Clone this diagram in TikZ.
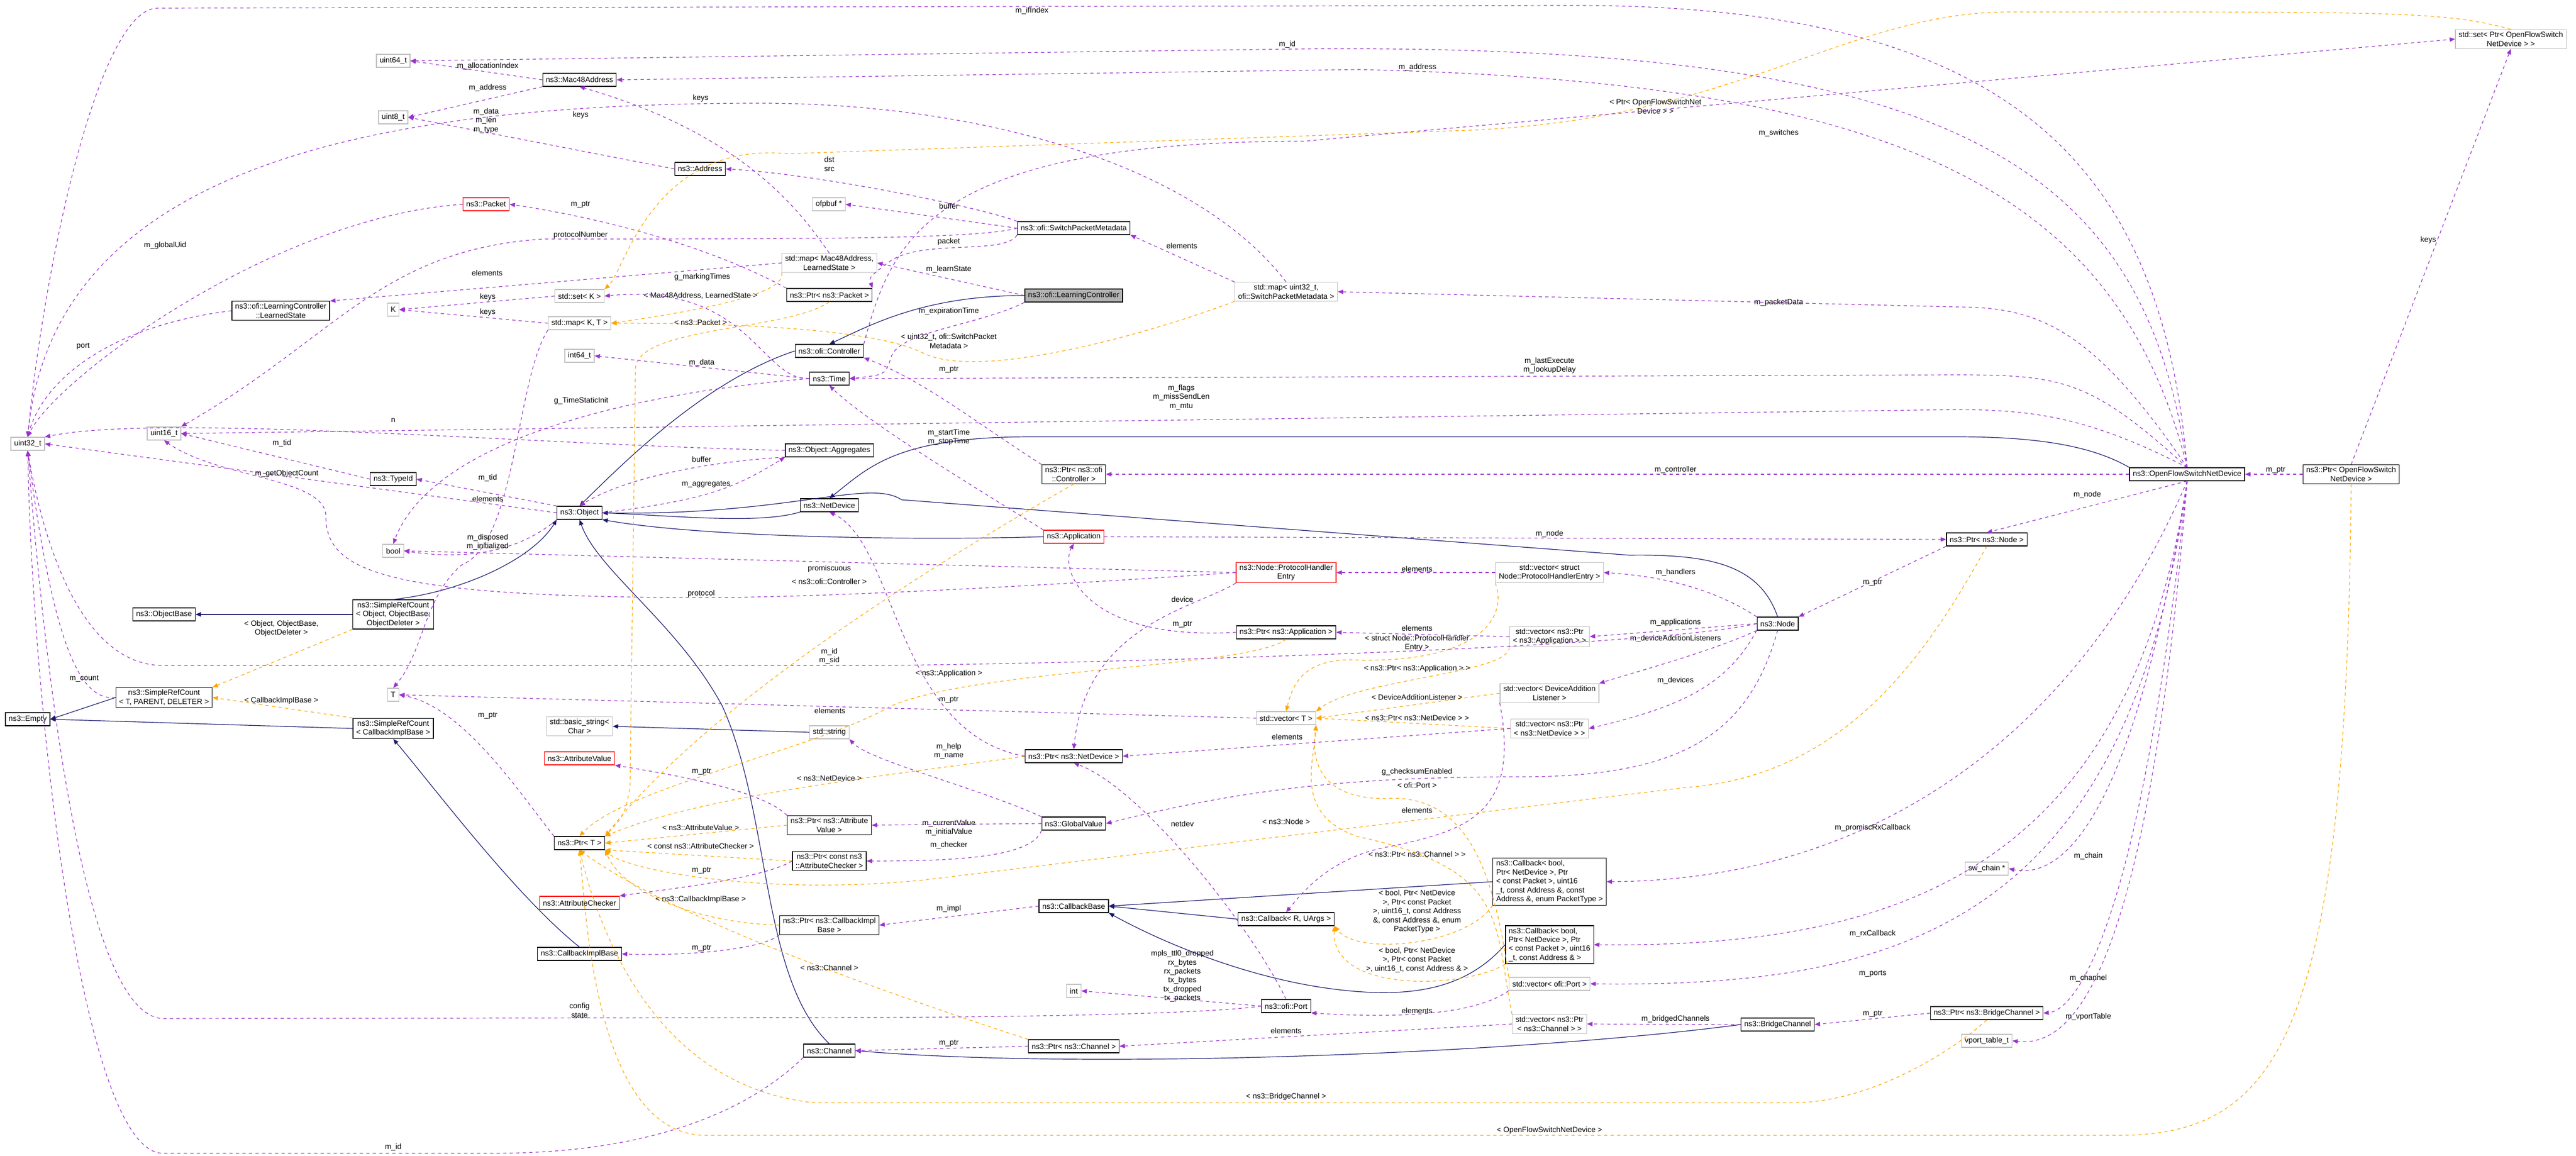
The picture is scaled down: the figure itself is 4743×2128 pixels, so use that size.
\documentclass[tikz,border=0pt]{standalone}
\usepackage{fontspec}
\setmainfont{Liberation Sans}
\usetikzlibrary{arrows.meta}
\definecolor{mpur}{RGB}{154,50,205}
\definecolor{dblue}{RGB}{25,25,112}
\definecolor{orng}{RGB}{255,165,0}
\begin{document}
\begin{tikzpicture}[x=0.5pt,y=-0.5pt,
 every node/.style={font=\fontsize{7}{8.2}\selectfont},
 box/.style={draw=black,fill=white,line width=0.6pt,inner xsep=3pt,inner ysep=2pt,minimum height=12pt,align=center},
 gbox/.style={box,draw=black!25},
 rbox/.style={box,draw=red},
 lbl/.style={inner sep=0.5pt,align=center},
 mem/.style={draw=mpur,dashed,line width=0.6pt,-{Triangle[length=5pt,width=4pt]}},
 inh/.style={draw=dblue,line width=0.6pt,-{Triangle[length=5pt,width=4pt]}},
 tmpl/.style={draw=orng,dashed,line width=0.6pt,-{Triangle[length=5pt,width=4pt]}}]
\useasboundingbox (0,0) rectangle (4743,2128);
% ---------- nodes ----------
\node[gbox] (u64) at (724,112) {uint64\_t};
\node[box] (mac) at (1067,147) {ns3::Mac48Address};
\node[gbox] (u8) at (724,216) {uint8\_t};
\node[box] (addr) at (1289,311) {ns3::Address};
\node[rbox] (pkt) at (895,376) {ns3::Packet};
\node[gbox] (ofp) at (1526,376) {ofpbuf *};
\node[box] (spm) at (1977,420) {ns3::ofi::SwitchPacketMetadata};
\node[gbox] (mapml) at (1527,484) {std::map\textless{} Mac48Address,\\LearnedState \textgreater};
\node[box] (pp) at (1527,543) {ns3::Ptr\textless{} ns3::Packet \textgreater};
\node[box,fill=black!30] (lc) at (1977,544) {ns3::ofi::LearningController};
\node[gbox] (mapu) at (2368,537) {std::map\textless{} uint32\_t,\\ofi::SwitchPacketMetadata \textgreater};
\node[box] (ls) at (517,572) {ns3::ofi::LearningController\\::LearnedState};
\node[gbox] (setk) at (1067,545) {std::set\textless{} K \textgreater};
\node[gbox] (K) at (724,570) {K};
\node[gbox] (mapkt) at (1067,595) {std::map\textless{} K, T \textgreater};
\node[box] (ctrl) at (1527,646) {ns3::ofi::Controller};
\node[gbox] (i64) at (1067,655) {int64\_t};
\node[box] (time) at (1527,697) {ns3::Time};
\node[gbox] (u32) at (51,817) {uint32\_t};
\node[gbox] (u16) at (302,798) {uint16\_t};
\node[box] (agg) at (1527,829) {ns3::Object::Aggregates};
\node[box] (pctrl) at (1977,873) {ns3::Ptr\textless{} ns3::ofi\\::Controller \textgreater};
\node[box] (tid) at (724,882) {ns3::TypeId};
\node[box] (nd) at (1527,930) {ns3::NetDevice};
\node[box] (obj) at (1067,944) {ns3::Object};
\node[rbox] (app) at (1977,988) {ns3::Application};
\node[gbox] (bool) at (724,1014) {bool};
\node[rbox] (phe) at (2368,1054) {ns3::Node::ProtocolHandler\\Entry};
\node[gbox] (vphe) at (2853,1054) {std::vector\textless{} struct\\Node::ProtocolHandlerEntry \textgreater};
\node[gbox] (setofs) at (4623,72) {std::set\textless{} Ptr\textless{} OpenFlowSwitch\\NetDevice \textgreater{} \textgreater};
\node[box] (ofs) at (4027,873) {ns3::OpenFlowSwitchNetDevice};
\node[box] (pofs) at (4329,873) {ns3::Ptr\textless{} OpenFlowSwitch\\NetDevice \textgreater};
\node[box] (pnode) at (3658,993) {ns3::Ptr\textless{} ns3::Node \textgreater};
\node[box] (node) at (3273,1148) {ns3::Node};
\node[gbox] (swc) at (3658,1599) {sw\_chain *};
\node[box] (pbc) at (3658,1865) {ns3::Ptr\textless{} ns3::BridgeChannel \textgreater};
\node[box] (bc) at (3273,1886) {ns3::BridgeChannel};
\node[gbox] (vpt) at (3658,1916) {vport\_table\_t};
\node[box] (objb) at (302,1131) {ns3::ObjectBase};
\node[box] (srco) at (724,1131) {ns3::SimpleRefCount\\\textless{} Object, ObjectBase,\\ObjectDeleter \textgreater};
\node[box] (srct) at (302,1284) {ns3::SimpleRefCount\\\textless{} T, PARENT, DELETER \textgreater};
\node[box] (empty) at (51,1324) {ns3::Empty};
\node[box] (srcc) at (724,1341) {ns3::SimpleRefCount\\\textless{} CallbackImplBase \textgreater};
\node[gbox] (T) at (724,1279) {T};
\node[gbox] (bstr) at (1067,1337) {std::basic\_string\textless\\Char \textgreater};
\node[gbox] (str) at (1527,1348) {std::string};
\node[rbox] (av) at (1067,1396) {ns3::AttributeValue};
\node[box] (ptrT) at (1067,1552) {ns3::Ptr\textless{} T \textgreater};
\node[rbox] (ac) at (1067,1662) {ns3::AttributeChecker};
\node[box] (cib) at (1067,1756) {ns3::CallbackImplBase};
\node[box] (chan) at (1527,1934) {ns3::Channel};
\node[box] (papp) at (2368,1164) {ns3::Ptr\textless{} ns3::Application \textgreater};
\node[gbox] (vapp) at (2853,1172) {std::vector\textless{} ns3::Ptr\\\textless{} ns3::Application \textgreater{} \textgreater};
\node[gbox] (vdal) at (2853,1276) {std::vector\textless{} DeviceAddition\\Listener \textgreater};
\node[gbox] (vT) at (2368,1322) {std::vector\textless{} T \textgreater};
\node[gbox] (vnd) at (2853,1341) {std::vector\textless{} ns3::Ptr\\\textless{} ns3::NetDevice \textgreater{} \textgreater};
\node[box] (pnd) at (1977,1392) {ns3::Ptr\textless{} ns3::NetDevice \textgreater};
\node[box] (pav) at (1527,1519) {ns3::Ptr\textless{} ns3::Attribute\\Value \textgreater};
\node[box] (gv) at (1977,1516) {ns3::GlobalValue};
\node[box] (pac) at (1527,1585) {ns3::Ptr\textless{} const ns3\\::AttributeChecker \textgreater};
\node[box] (cb) at (1977,1668) {ns3::CallbackBase};
\node[box] (cbr) at (2368,1692) {ns3::Callback\textless{} R, UArgs \textgreater};
\node[box,align=left] (cbp) at (2853,1623) {ns3::Callback\textless{} bool,\\ Ptr\textless{} NetDevice \textgreater, Ptr\\\textless{} const Packet \textgreater, uint16\\\_t, const Address \&, const\\ Address \&, enum PacketType \textgreater};
\node[box] (pcib) at (1527,1703) {ns3::Ptr\textless{} ns3::CallbackImpl\\Base \textgreater};
\node[box,align=left] (cba) at (2853,1739) {ns3::Callback\textless{} bool,\\ Ptr\textless{} NetDevice \textgreater, Ptr\\\textless{} const Packet \textgreater, uint16\\\_t, const Address \& \textgreater};
\node[gbox] (int) at (1977,1824) {int};
\node[box] (port) at (2368,1852) {ns3::ofi::Port};
\node[gbox] (vport) at (2853,1811) {std::vector\textless{} ofi::Port \textgreater};
\node[gbox] (vch) at (2853,1885) {std::vector\textless{} ns3::Ptr\\\textless{} ns3::Channel \textgreater{} \textgreater};
\node[box] (pch) at (1977,1926) {ns3::Ptr\textless{} ns3::Channel \textgreater};
% ---------- inheritance ----------
\draw[inh] (lc.west) .. controls (1700,544) and (1600,600) .. (ctrl.north);
\draw[inh] (ctrl.west) .. controls (1300,700) and (1150,850) .. (obj.north);
\draw[inh] (nd.south west) .. controls (1400,965) and (1250,950) .. (obj.east);
\draw[inh] (app.west) .. controls (1700,995) and (1300,990) .. (obj.south east);
\draw[inh] (node.north) .. controls (3240,1040) and (3150,1020) .. (3000,1022) -- (1660,920) .. controls (1600,880) and (1450,950) .. (obj.east);
\draw[inh] (ofs.north west) .. controls (3850,820) and (3750,804) .. (3600,804) -- (1900,804) .. controls (1650,804) and (1600,860) .. (nd.north);
\draw[inh] (srco.north) .. controls (850,1090) and (980,1030) .. (obj.south west);
\draw[inh] (chan.north) .. controls (1400,1800) and (1420,1500) .. (1330,1300) .. controls (1250,1150) and (1100,1050) .. (obj.south);
\draw[inh] (srco.west) -- (objb.east);
\draw[inh] (srct.west) -- (empty.east);
\draw[inh] (srcc.west) -- (empty.east);
\draw[inh] (cib.north) .. controls (950,1650) and (800,1450) .. (srcc.south);
\draw[inh] (str.west) -- (bstr.east);
\draw[inh] (cbp.west) -- (cb.east);
\draw[inh] (cbr.west) -- (cb.east);
\draw[inh] (cba.west) .. controls (2700,1820) and (2600,1840) .. (2450,1820) .. controls (2300,1800) and (2150,1740) .. (cb.south east);
\draw[inh] (bc.west) .. controls (2800,1940) and (2000,1970) .. (chan.east);
% ---------- template instances ----------
\draw[tmpl] (srco.south west) -- (srct.north east);
\node[lbl] at (518,1157) {\textless{} Object, ObjectBase,\\ObjectDeleter \textgreater};
\draw[tmpl] (srcc.north west) -- (srct.east);
\node[lbl] at (518,1290) {\textless{} CallbackImplBase \textgreater};
\draw[tmpl] (setofs.north) .. controls (4500,20) and (4400,22) .. (3700,22) .. controls (3400,22) and (3200,220) .. (2700,240) -- (1450,283) .. controls (1200,260) and (1150,500) .. (setk.north east);
\node[lbl] at (3048,196) {\textless{} Ptr\textless{} OpenFlowSwitchNet\\Device \textgreater{} \textgreater};
\draw[tmpl] (mapml.south west) .. controls (1450,540) and (1300,570) .. (mapkt.east);
\node[lbl] at (1290,544) {\textless{} Mac48Address, LearnedState \textgreater};
\draw[tmpl] (mapu.south west) .. controls (2100,620) and (1800,700) .. (1700,650) .. controls (1600,600) and (1300,595) .. (mapkt.east);
\node[lbl] at (1747,628) {\textless{} uint32\_t, ofi::SwitchPacket\\Metadata \textgreater};
\node[lbl] at (1290,593) {\textless{} ns3::Packet \textgreater};
\draw[tmpl] (pp.south) .. controls (1450,610) and (1170,600) .. (1170,680) -- (1160,1450) .. controls (1150,1500) .. (ptrT.north east);
\draw[tmpl] (pctrl.south) .. controls (1700,1050) and (1300,1300) .. (ptrT.north east);
\node[lbl] at (1527,1070) {\textless{} ns3::ofi::Controller \textgreater};
\draw[tmpl] (papp.south) .. controls (2300,1230) and (1800,1230) .. (1640,1300) .. controls (1500,1380) and (1150,1450) .. (ptrT.north);
\node[lbl] at (1747,1240) {\textless{} ns3::Application \textgreater};
\draw[tmpl] (pnd.west) .. controls (1700,1420) and (1300,1460) .. (ptrT.north east);
\node[lbl] at (1527,1432) {\textless{} ns3::NetDevice \textgreater};
\draw[tmpl] (pav.west) -- (ptrT.east);
\node[lbl] at (1290,1523) {\textless{} ns3::AttributeValue \textgreater};
\draw[tmpl] (pac.west) -- (ptrT.south east);
\node[lbl] at (1290,1557) {\textless{} const ns3::AttributeChecker \textgreater};
\draw[tmpl] (pcib.west) .. controls (1300,1700) and (1150,1650) .. (ptrT.south east);
\node[lbl] at (1290,1656) {\textless{} ns3::CallbackImplBase \textgreater};
\draw[tmpl] (pch.north west) .. controls (1700,1850) and (1250,1700) .. (ptrT.south);
\node[lbl] at (1527,1781) {\textless{} ns3::Channel \textgreater};
\draw[tmpl] (pbc.south) .. controls (3600,1930) and (3450,2030) .. (3300,2030) -- (1500,2030) .. controls (1200,2000) and (1100,1700) .. (ptrT.south);
\node[lbl] at (2368,2019) {\textless{} ns3::BridgeChannel \textgreater};
\draw[tmpl] (pofs.south) .. controls (4320,1900) and (4200,2090) .. (3900,2090) -- (1300,2090) .. controls (1100,2090) and (1080,1700) .. (ptrT.south);
\node[lbl] at (2853,2081) {\textless{} OpenFlowSwitchNetDevice \textgreater};
\draw[tmpl] (pnode.south) .. controls (3550,1200) and (3400,1430) .. (3100,1450) -- (1700,1620) .. controls (1400,1650) and (1150,1600) .. (ptrT.south east);
\node[lbl] at (2368,1512) {\textless{} ns3::Node \textgreater};
\draw[tmpl] (vphe.south west) .. controls (2780,1150) and (2700,1220) .. (2500,1215) .. controls (2400,1210) and (2380,1260) .. (vT.north);
\node[lbl] at (2609,1184) {\textless{} struct Node::ProtocolHandler\\Entry \textgreater};
\draw[tmpl] (vapp.south west) .. controls (2780,1240) and (2500,1250) .. (vT.north east);
\node[lbl] at (2609,1231) {\textless{} ns3::Ptr\textless{} ns3::Application \textgreater{} \textgreater};
\draw[tmpl] (vdal.west) -- (vT.east);
\node[lbl] at (2609,1283) {\textless{} DeviceAdditionListener \textgreater};
\draw[tmpl] (vnd.west) -- (vT.east);
\node[lbl] at (2609,1321) {\textless{} ns3::Ptr\textless{} ns3::NetDevice \textgreater{} \textgreater};
\draw[tmpl] (vport.north west) .. controls (2750,1600) and (2700,1460) .. (2550,1470) .. controls (2400,1470) and (2420,1360) .. (vT.south east);
\node[lbl] at (2609,1445) {\textless{} ofi::Port \textgreater};
\draw[tmpl] (vch.north west) .. controls (2750,1700) and (2780,1600) .. (2500,1540) .. controls (2380,1500) and (2420,1400) .. (vT.south east);
\node[lbl] at (2609,1572) {\textless{} ns3::Ptr\textless{} ns3::Channel \textgreater{} \textgreater};
\draw[tmpl] (cbp.south west) .. controls (2700,1740) and (2500,1760) .. (cbr.south east);
\node[lbl] at (2609,1678) {\textless{} bool, Ptr\textless{} NetDevice\\\textgreater, Ptr\textless{} const Packet\\\textgreater, uint16\_t, const Address\\\&, const Address \&, enum\\PacketType \textgreater};
\draw[tmpl] (cba.south west) .. controls (2700,1820) and (2450,1830) .. (cbr.south east);
\node[lbl] at (2609,1767) {\textless{} bool, Ptr\textless{} NetDevice\\\textgreater, Ptr\textless{} const Packet\\\textgreater, uint16\_t, const Address \& \textgreater};
% ---------- members ----------
\draw[mem] (ofs.north) .. controls (3980,300) and (3700,10) .. (2900,10) -- (290,15) .. controls (180,15) and (80,500) .. (u32.north);
\node[lbl] at (1900,20) {m\_ifIndex};
\draw[mem] (ofs.north) .. controls (3950,300) and (3600,80) .. (2400,90) -- (u64.east);
\node[lbl] at (2370,82) {m\_id};
\draw[mem] (ofs.north) .. controls (3900,350) and (3500,150) .. (2500,128) -- (mac.east);
\node[lbl] at (2610,124) {m\_address};
\draw[mem] (ctrl.north east) .. controls (1640,450) and (1700,260) .. (2400,260) -- (setofs.west);
\node[lbl] at (3275,245) {m\_switches};
\draw[mem] (pofs.north) -- (setofs.south);
\node[lbl] at (4471,442) {keys};
\draw[mem] (pofs.west) -- (ofs.east);
\node[lbl] at (4190,865) {m\_ptr};
\draw[mem] (ofs.north) .. controls (3850,600) and (3750,565) .. (3600,565) -- (mapu.east);
\node[lbl] at (3275,557) {m\_packetData};
\draw[mem] (ofs.north) .. controls (3850,700) and (3800,690) .. (3600,690) -- (time.east);
\node[lbl] at (2853,673) {m\_lastExecute\\m\_lookupDelay};
\draw[mem] (ofs.north) .. controls (3850,770) and (3750,754) .. (3600,754) -- (u16.east);
\node[lbl] at (2175,731) {m\_flags\\m\_missSendLen\\m\_mtu};
\draw[mem] (ofs.west) -- (pctrl.east);
\node[lbl] at (3085,865) {m\_controller};
\draw[mem] (ofs.south) -- (pnode.north);
\node[lbl] at (3843,911) {m\_node};
\draw[mem] (ofs.south) .. controls (3850,1300) and (3500,1620) .. (cbp.east);
\node[lbl] at (3448,1524) {m\_promiscRxCallback};
\draw[mem] (ofs.south) .. controls (3930,1500) and (3800,1620) .. (swc.east);
\node[lbl] at (3845,1576) {m\_chain};
\draw[mem] (ofs.south) .. controls (3920,1600) and (3500,1745) .. (cba.east);
\node[lbl] at (3448,1719) {m\_rxCallback};
\draw[mem] (ofs.south) .. controls (3920,1700) and (3500,1818) .. (vport.east);
\node[lbl] at (3448,1792) {m\_ports};
\draw[mem] (ofs.south) .. controls (3930,1800) and (3800,1862) .. (pbc.east);
\node[lbl] at (3845,1801) {m\_channel};
\draw[mem] (ofs.south) .. controls (3950,1850) and (3800,1926) .. (vpt.east);
\node[lbl] at (3845,1872) {m\_vportTable};
\draw[mem] (pnode.south west) -- (node.north east);
\node[lbl] at (3448,1072) {m\_ptr};
\draw[mem] (app.east) -- (pnode.west);
\node[lbl] at (2853,983) {m\_node};
\draw[mem] (node.north west) .. controls (3150,1080) and (3050,1060) .. (vphe.east);
\node[lbl] at (3085,1054) {m\_handlers};
\draw[mem] (node.west) -- (vapp.east);
\node[lbl] at (3085,1146) {m\_applications};
\draw[mem] (node.south west) .. controls (3150,1200) and (3000,1240) .. (vdal.north east);
\node[lbl] at (3085,1176) {m\_deviceAdditionListeners};
\draw[mem] (node.south west) .. controls (3180,1260) and (3100,1300) .. (vnd.east);
\node[lbl] at (3085,1253) {m\_devices};
\draw[mem] (node.south) .. controls (3220,1350) and (3100,1430) .. (2800,1430) .. controls (2500,1430) and (2300,1450) .. (gv.east);
\node[lbl] at (2609,1421) {g\_checksumEnabled};
\draw[mem] (node.west) .. controls (3000,1200) and (1800,1225) .. (1600,1225) -- (300,1225) .. controls (150,1225) and (80,1000) .. (u32.south);
\node[lbl] at (1527,1208) {m\_id\\m\_sid};
\draw[mem] (bc.west) -- (vch.east);
\node[lbl] at (3085,1876) {m\_bridgedChannels};
\draw[mem] (pbc.west) -- (bc.east);
\node[lbl] at (3448,1866) {m\_ptr};
\draw[mem] (vch.west) -- (pch.east);
\node[lbl] at (2368,1897) {elements};
\draw[mem] (pch.west) -- (chan.east);
\node[lbl] at (1747,1920) {m\_ptr};
\draw[mem] (chan.south west) .. controls (1300,2120) and (1000,2123) .. (900,2123) -- (300,2123) .. controls (150,2123) and (60,1300) .. (u32.south);
\node[lbl] at (724,2112) {m\_id};
\draw[mem] (vport.south west) .. controls (2700,1880) and (2500,1870) .. (port.south east);
\node[lbl] at (2609,1860) {elements};
\draw[mem] (port.west) -- (int.east);
\node[lbl] at (2177,1797) {mpls\_ttl0\_dropped\\rx\_bytes\\rx\_packets\\tx\_bytes\\tx\_dropped\\tx\_packets};
\draw[mem] (port.north) .. controls (2300,1700) and (2100,1450) .. (pnd.south);
\node[lbl] at (2177,1516) {netdev};
\draw[mem] (port.west) .. controls (2200,1870) and (1700,1873) .. (1600,1873) -- (300,1875) .. controls (150,1870) and (80,1200) .. (u32.south);
\node[lbl] at (1067,1860) {config\\state};
\draw[mem] (vdal.south west) .. controls (2800,1500) and (2700,1530) .. (2550,1560) .. controls (2450,1580) and (2400,1640) .. (cbr.north);
\node[lbl] at (2609,1491) {elements};
\draw[mem] (vnd.west) -- (pnd.east);
\node[lbl] at (2370,1356) {elements};
\draw[mem] (vapp.west) -- (papp.east);
\node[lbl] at (2609,1156) {elements};
\draw[mem] (vphe.west) -- (phe.east);
\node[lbl] at (2609,1047) {elements};
\draw[mem] (papp.west) .. controls (2000,1180) and (1950,1050) .. (app.south);
\node[lbl] at (2177,1149) {m\_ptr};
\draw[mem] (pnd.west) .. controls (1650,1350) and (1650,1000) .. (nd.south);
\node[lbl] at (1747,1288) {m\_ptr};
\draw[mem] (phe.south west) .. controls (2200,1120) and (2000,1150) .. (pnd.north);
\node[lbl] at (2177,1103) {device};
\draw[mem] (phe.west) -- (bool.east);
\node[lbl] at (1527,1047) {promiscuous};
\draw[mem] (phe.west) .. controls (1900,1080) and (1500,1100) .. (1300,1100) .. controls (700,1100) and (600,1050) .. (600,950) .. controls (600,880) and (400,880) .. (u16.south);
\node[lbl] at (1291,1093) {protocol};
\draw[mem] (app.north west) .. controls (1800,900) and (1600,780) .. (time.south);
\node[lbl] at (1747,805) {m\_startTime\\m\_stopTime};
\draw[mem] (pctrl.north west) .. controls (1800,780) and (1700,700) .. (ctrl.south east);
\node[lbl] at (1747,680) {m\_ptr};
\draw[mem] (lc.south west) .. controls (1800,600) and (1650,610) .. (1640,660) .. controls (1630,690) .. (time.east);
\node[lbl] at (1747,573) {m\_expirationTime};
\draw[mem] (lc.west) -- (mapml.east);
\node[lbl] at (1747,496) {m\_learnState};
\draw[mem] (mapu.north west) -- (spm.south east);
\node[lbl] at (2176,453) {elements};
\draw[mem] (mapu.north) .. controls (2200,300) and (1800,190) .. (1400,190) .. controls (700,190) and (100,300) .. (u32.north);
\node[lbl] at (1069,212) {keys};
\draw[mem] (spm.west) -- (ofp.east);
\node[lbl] at (1747,380) {buffer};
\draw[mem] (spm.north west) .. controls (1800,380) and (1500,320) .. (addr.east);
\node[lbl] at (1527,302) {dst\\src};
\draw[mem] (spm.south west) .. controls (1850,470) and (1700,440) .. (1640,480) .. controls (1600,510) .. (pp.north east);
\node[lbl] at (1747,445) {packet};
\draw[mem] (spm.west) .. controls (1800,440) and (1500,440) .. (1000,440) .. controls (700,460) and (620,620) .. (u16.north east);
\node[lbl] at (1069,433) {protocolNumber};
\draw[mem] (mapml.north) .. controls (1480,400) and (1380,250) .. (mac.south);
\node[lbl] at (1290,181) {keys};
\draw[mem] (mapml.west) -- (ls.north east);
\node[lbl] at (897,503) {elements};
\draw[mem] (ls.west) .. controls (200,600) and (80,700) .. (u32.north);
\node[lbl] at (153,637) {port};
\draw[mem] (pp.north west) .. controls (1300,450) and (1100,400) .. (pkt.east);
\node[lbl] at (1069,376) {m\_ptr};
\draw[mem] (pkt.west) .. controls (500,400) and (100,700) .. (u32.north);
\node[lbl] at (304,452) {m\_globalUid};
\draw[mem] (addr.west) -- (u8.east);
\node[lbl] at (895,222) {m\_data\\m\_len\\m\_type};
\draw[mem] (mac.west) -- (u64.east);
\node[lbl] at (898,122) {m\_allocationIndex};
\draw[mem] (mac.south west) -- (u8.east);
\node[lbl] at (898,162) {m\_address};
\draw[mem] (time.west) -- (i64.east);
\node[lbl] at (1292,668) {m\_data};
\draw[mem] (time.west) .. controls (1400,700) and (1380,520) .. (setk.east);
\node[lbl] at (1293,510) {g\_markingTimes};
\draw[mem] (time.west) .. controls (1200,720) and (800,800) .. (bool.north);
\node[lbl] at (1070,738) {g\_TimeStaticInit};
\draw[mem] (setk.west) -- (K.east);
\node[lbl] at (898,547) {keys};
\draw[mem] (mapkt.west) -- (K.east);
\node[lbl] at (898,575) {keys};
\draw[mem] (mapkt.south west) .. controls (950,700) and (950,1000) .. (850,1040) .. controls (780,1100) and (780,1200) .. (T.north);
\node[lbl] at (898,918) {elements};
\draw[mem] (tid.west) -- (u16.east);
\node[lbl] at (519,816) {m\_tid};
\draw[mem] (obj.north west) -- (tid.east);
\node[lbl] at (898,880) {m\_tid};
\draw[mem] (obj.west) -- (u32.east);
\node[lbl] at (528,872) {m\_getObjectCount};
\draw[mem] (obj.east) .. controls (1300,920) and (1350,900) .. (agg.south west);
\node[lbl] at (1300,891) {m\_aggregates};
\draw[mem] (agg.south west) .. controls (1300,850) and (1150,880) .. (obj.north);
\node[lbl] at (1292,845) {buffer};
\draw[mem] (agg.west) .. controls (1000,820) and (300,760) .. (u32.north east);
\node[lbl] at (724,774) {n};
\draw[mem] (obj.south west) .. controls (950,1020) and (850,1030) .. (bool.east);
\node[lbl] at (898,998) {m\_disposed\\m\_initialized};
\draw[mem] (srct.west) .. controls (150,1290) and (100,1200) .. (u32.south);
\node[lbl] at (155,1249) {m\_count};
\draw[mem] (ptrT.north west) .. controls (950,1450) and (850,1300) .. (T.east);
\node[lbl] at (898,1317) {m\_ptr};
\draw[mem] (vT.west) -- (T.east);
\node[lbl] at (1528,1308) {elements};
\draw[mem] (gv.north west) .. controls (1800,1450) and (1600,1400) .. (str.south east);
\node[lbl] at (1747,1383) {m\_help\\m\_name};
\draw[mem] (gv.west) -- (pav.east);
\node[lbl] at (1747,1524) {m\_currentValue\\m\_initialValue};
\draw[mem] (gv.south west) .. controls (1900,1580) and (1750,1585) .. (pac.east);
\node[lbl] at (1747,1556) {m\_checker};
\draw[mem] (pav.north west) .. controls (1400,1450) and (1200,1420) .. (av.south east);
\node[lbl] at (1292,1420) {m\_ptr};
\draw[mem] (pac.west) .. controls (1400,1620) and (1200,1640) .. (ac.north east);
\node[lbl] at (1292,1602) {m\_ptr};
\draw[mem] (pcib.south west) .. controls (1400,1750) and (1250,1760) .. (cib.east);
\node[lbl] at (1292,1745) {m\_ptr};
\draw[mem] (cb.west) -- (pcib.east);
\node[lbl] at (1747,1673) {m\_impl};
\end{tikzpicture}
\end{document}
